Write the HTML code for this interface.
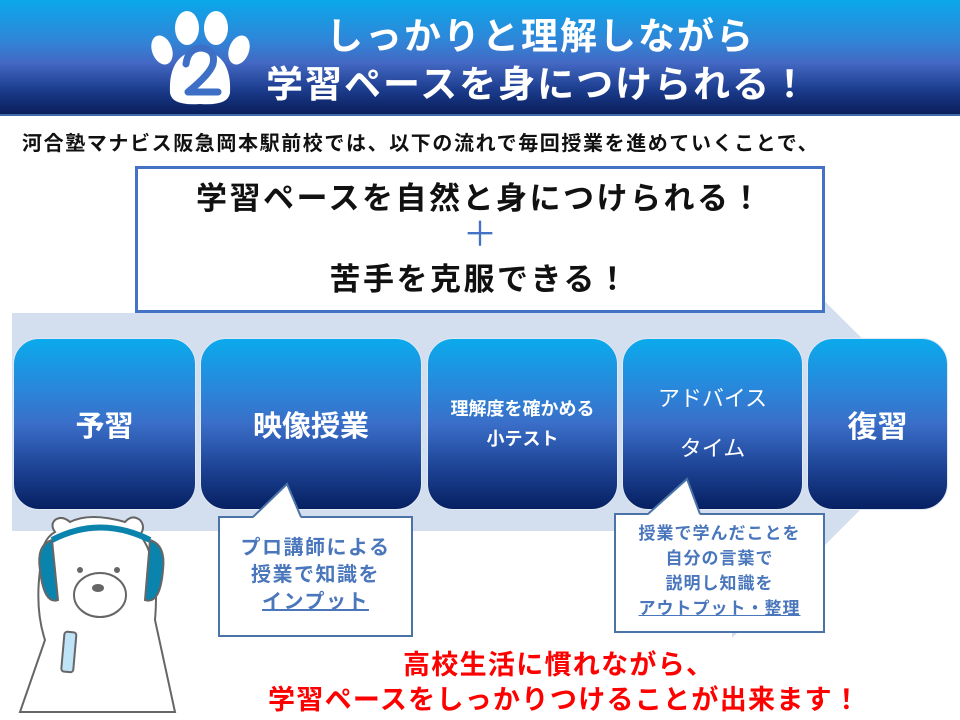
<!DOCTYPE html>
<html><head><meta charset="utf-8"><style>
*{margin:0;padding:0;box-sizing:border-box}
body{width:960px;height:720px;overflow:hidden;background:#fff;position:relative;font-family:"Liberation Sans","Noto Sans CJK JP",sans-serif;font-weight:bold}
.hdr{position:absolute;left:0;top:0;width:960px;height:116px;background:linear-gradient(#0aa8ea 0%,#2f86d8 35%,#4469c4 55%,#1a3a8a 80%,#0a1e5a 100%);border-bottom:2px solid #3c6aa8}
.ht{position:absolute;color:#fff;font-size:37px;white-space:nowrap;letter-spacing:2px}
.abs{position:absolute}
.box{position:absolute;top:338px;height:172px;border-radius:26px;background:linear-gradient(#0aaaec 0%,#2a86da 30%,#3a6ec8 50%,#1e4496 75%,#062062 100%);color:#fff;display:flex;align-items:center;justify-content:center;text-align:center;border:1px solid #dfe8f5}
.co{position:absolute;background:#fff;border:2px solid #4a74a8;color:#4a76bc;text-align:center;font-size:20px;line-height:27px;letter-spacing:1.5px}
.co u{text-decoration:underline}
.red{position:absolute;color:#ff0000;font-size:27px;white-space:nowrap;letter-spacing:1.3px}
</style></head><body>
<div class="hdr"></div>
<svg class="abs" style="left:150px;top:8px" width="100" height="100" viewBox="0 0 100 100">
<g fill="#fff"><ellipse cx="12" cy="42" rx="10" ry="15" transform="rotate(-20 12 42)"/><ellipse cx="37" cy="20" rx="12" ry="17"/><ellipse cx="66" cy="20" rx="12" ry="17"/><ellipse cx="89" cy="42" rx="10" ry="15" transform="rotate(20 89 42)"/>
<path d="M20 85 Q18 45 50 42 Q82 45 80 85 Q78 98 50 96 Q22 98 20 85Z"/></g>
<path d="M36 56 Q38 40 52 40 Q66 42 63 56 Q60 66 38 84 L68 84" fill="none" stroke="#3d6fc6" stroke-width="7" stroke-linecap="round" stroke-linejoin="round"/>
</svg>
<div class="ht" style="left:326px;top:6px">しっかりと理解しながら</div>
<div class="ht" style="left:266px;top:54px">学習ペースを身につけられる！</div>
<div class="abs" style="left:22px;top:127px;font-size:20px;letter-spacing:1.6px;white-space:nowrap;color:#111">河合塾マナビス阪急岡本駅前校では、以下の流れで毎回授業を進めていくことで、</div>
<svg class="abs" style="left:0;top:0" width="960" height="720"><polygon points="12,313 730,313 730,207 947,423 732,638 732,531 12,531" fill="#d3deee"/></svg>
<div class="abs" style="left:135px;top:166px;width:690px;height:147px;border:3px solid #4472c4;background:#fff;text-align:center;color:#111">
<div style="font-size:31px;margin-top:4px;letter-spacing:2.5px">学習ペースを自然と身につけられる！</div>
<div style="font-size:34px;color:#4472c4;line-height:34px;font-weight:normal">＋</div>
<div style="font-size:31px;margin-top:2px;letter-spacing:2.5px">苦手を克服できる！</div>
</div>
<div class="box" style="left:13px;width:183px;font-size:29px">予習</div>
<div class="box" style="left:200px;width:222px;font-size:29px">映像授業</div>
<div class="box" style="left:427px;width:191px;font-size:18px;line-height:30px">理解度を確かめる<br>小テスト</div>
<div class="box" style="left:622px;width:181px;font-size:22px;line-height:50px;font-weight:normal">アドバイス<br>タイム</div>
<div class="box" style="left:807px;width:141px;font-size:30px">復習</div>
<div class="co" style="left:218px;top:516px;width:195px;height:121px;padding-top:17px">プロ講師による<br>授業で知識を<br><u>インプット</u></div>
<div class="co" style="left:614px;top:513px;width:211px;height:120px;padding-top:6px;font-size:17px;line-height:25px;letter-spacing:1px">授業で学んだことを<br>自分の言葉で<br>説明し知識を<br><u>アウトプット・整理</u></div>
<svg class="abs" style="left:0;top:0" width="960" height="720">
<polygon points="253,518 287,484 301,518" fill="#fff"/>
<polygon points="648,515 687,479 700,515" fill="#fff"/>
<polyline points="253,517 287,484 301,517" fill="none" stroke="#4a74a8" stroke-width="2"/>
<polyline points="648,514 687,479 700,514" fill="none" stroke="#4a74a8" stroke-width="2"/>
<g stroke="#666" stroke-width="2" fill="#fff">
<path d="M20 712 L45 640 Q35 610 40 570 Q40 540 55 532 Q50 525 55 520 Q62 515 70 522 Q90 512 125 522 Q132 514 140 520 Q146 527 140 535 Q160 560 155 620 L175 712 Z"/>
<path d="M40 570 Q36 545 52 540 L58 600 Q44 605 40 570Z" fill="#0b84ad"/>
<path d="M163 570 Q166 545 150 540 L145 600 Q160 605 163 570Z" fill="#0b84ad"/>
<path d="M52 540 Q100 515 150 540" fill="none" stroke="#0b84ad" stroke-width="6"/>
<ellipse cx="100" cy="595" rx="26" ry="22"/>
<rect x="63" y="632" width="12" height="40" rx="3" fill="#bfe3f7" transform="rotate(5 69 650)"/>
</g>
<circle cx="80" cy="570" r="3" fill="#666"/><circle cx="117" cy="570" r="3" fill="#666"/>
<ellipse cx="98" cy="588" rx="6" ry="4" fill="#666"/>
</svg>
<div class="red" style="left:403px;top:643px">高校生活に慣れながら、</div>
<div class="red" style="left:268px;top:678px">学習ペースをしっかりつけることが出来ます！</div>
</body></html>
